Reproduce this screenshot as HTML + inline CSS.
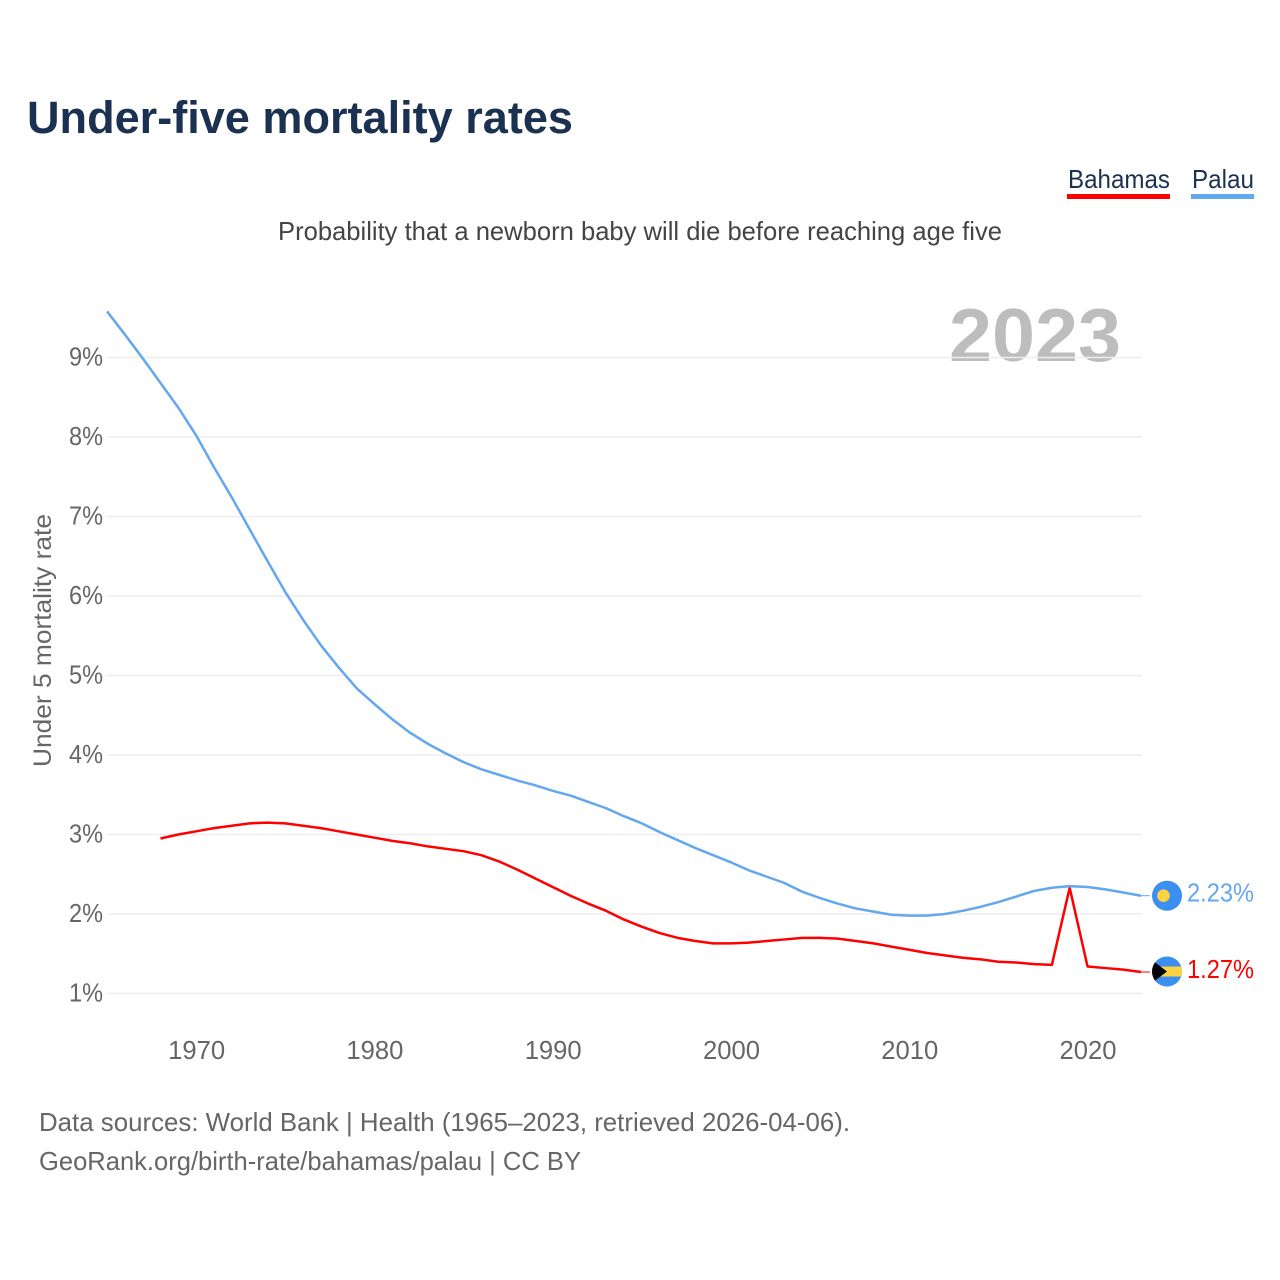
<!DOCTYPE html>
<html>
<head>
<meta charset="utf-8">
<title>Under-five mortality rates</title>
<style>
html,body{margin:0;padding:0;background:#fff;}
svg{display:block;}
text{font-family:"Liberation Sans",sans-serif;}
</style>
</head>
<body>
<svg id="chart" xmlns="http://www.w3.org/2000/svg" width="1280" height="1280" viewBox="0 0 1280 1280">
  <rect x="0" y="0" width="1280" height="1280" fill="#ffffff"/>
  <text x="27" y="133" font-size="45" font-weight="700" fill="#1a3152" textLength="546" lengthAdjust="spacingAndGlyphs">Under-five mortality rates</text>
  <g>
    <text x="1068" y="188" font-size="26" fill="#1a3152" textLength="102" lengthAdjust="spacingAndGlyphs">Bahamas</text>
    <rect x="1067" y="194" width="103" height="5" fill="#ff0000"/>
  </g>
  <g>
    <text x="1192" y="188" font-size="26" fill="#1a3152" textLength="62" lengthAdjust="spacingAndGlyphs">Palau</text>
    <rect x="1191" y="194" width="63" height="5" fill="#63a7ee"/>
  </g>
  <text x="278" y="240" font-size="26" fill="#444444" textLength="724" lengthAdjust="spacingAndGlyphs">Probability that a newborn baby will die before reaching age five</text>
  <text x="949" y="361" font-size="75" font-weight="700" fill="#bdbdbd" textLength="172" lengthAdjust="spacingAndGlyphs">2023</text>
  <text transform="translate(51 767) rotate(-90)" x="0" y="0" font-size="25" fill="#666666" textLength="253" lengthAdjust="spacingAndGlyphs">Under 5 mortality rate</text>
  <g id="grid"></g>
  <g id="yticks"></g>
  <g id="xticks"></g>
  <g id="series"></g>
  <defs>
    <clipPath id="bahamas-clip"><circle id="bahamas-clip-circle" cx="1167" cy="971" r="15"/></clipPath>
  </defs>
  <g id="palau-flag">
    <circle cx="1167" cy="0" r="15" fill="#3a8ff0"/>
    <circle cx="1163.5" cy="0" r="6.3" fill="#ffd23f"/>
  </g>
  <g id="bahamas-flag" clip-path="url(#bahamas-clip)"></g>
  <text id="palau-end" x="1187" font-size="26" fill="#63a7ee" textLength="67" lengthAdjust="spacingAndGlyphs"></text>
  <text id="bahamas-end" x="1187" font-size="26" fill="#ff0000" textLength="67" lengthAdjust="spacingAndGlyphs"></text>
  <text x="39" y="1131" font-size="26" fill="#666666" textLength="811" lengthAdjust="spacingAndGlyphs">Data sources: World Bank | Health (1965–2023, retrieved 2026-04-06).</text>
  <text x="39" y="1170" font-size="26" fill="#666666" textLength="542" lengthAdjust="spacingAndGlyphs">GeoRank.org/birth-rate/bahamas/palau | CC BY</text>
</svg>
<script>
const palauStartYear = 1965;
const palauValues = [9.58,9.29,8.99,8.68,8.37,8.02,7.62,7.24,6.84,6.44,6.05,5.70,5.38,5.10,4.84,4.64,4.45,4.28,4.14,4.02,3.91,3.82,3.75,3.68,3.62,3.55,3.49,3.41,3.33,3.23,3.14,3.03,2.93,2.83,2.74,2.65,2.55,2.47,2.39,2.28,2.20,2.13,2.07,2.03,1.99,1.98,1.98,2.00,2.04,2.09,2.15,2.22,2.29,2.33,2.35,2.34,2.31,2.27,2.23];
const bahamasStartYear = 1968;
const bahamasValues = [2.95,3.00,3.04,3.08,3.11,3.14,3.15,3.14,3.11,3.08,3.04,3.00,2.96,2.92,2.89,2.85,2.82,2.79,2.74,2.66,2.56,2.45,2.34,2.23,2.13,2.04,1.93,1.84,1.76,1.70,1.66,1.63,1.63,1.64,1.66,1.68,1.70,1.70,1.69,1.66,1.63,1.59,1.55,1.51,1.48,1.45,1.43,1.40,1.39,1.37,1.36,2.33,1.34,1.32,1.30,1.27];
const yTickValues = [1,2,3,4,5,6,7,8,9];
const xTickYears = [1970,1980,1990,2000,2010,2020];
const palauEndLabel = "2.23%";
const bahamasEndLabel = "1.27%";

const NS = "http://www.w3.org/2000/svg";
const xScale = function (year) { return 107 + (year - 1965) * (1034 / 58); };
const yScale = function (v) { return 993.5 - (v - 1) * 79.5; };
const grid = document.getElementById("grid");
const yticks = document.getElementById("yticks");
const xticks = document.getElementById("xticks");
const series = document.getElementById("series");

function make(tag, attrs) {
  const el = document.createElementNS(NS, tag);
  for (const k in attrs) el.setAttribute(k, attrs[k]);
  return el;
}

yTickValues.forEach(function (v) {
  const line = make("line", {x1: 107, x2: 1142, y1: yScale(v), y2: yScale(v), stroke: "#eeeeee", "stroke-width": 1.5});
  
  
  grid.appendChild(line);
  const label = make("text", {x: 69, y: yScale(v) + 8, "font-size": 26, fill: "#666666", textLength: 34, lengthAdjust: "spacingAndGlyphs"});
  
  
  label.textContent = v + "%";
  yticks.appendChild(label);
});

xTickYears.forEach(function (yr) {
  const label = make("text", {x: xScale(yr) - 28, y: 1059, "font-size": 26, fill: "#666666", textLength: 57, lengthAdjust: "spacingAndGlyphs"});
  
  
  label.textContent = yr;
  xticks.appendChild(label);
});

function linePoints(values, startYear) {
  return values.map(function (v, i) {
    return xScale(startYear + i).toFixed(2) + "," + yScale(v).toFixed(2);
  }).join(" ");
}

const bahamasLine = make("polyline", {points: linePoints(bahamasValues, bahamasStartYear), fill: "none", stroke: "#ff0000", "stroke-width": 2.5, "stroke-linejoin": "round"});


series.appendChild(bahamasLine);

const palauLine = make("polyline", {points: linePoints(palauValues, palauStartYear), fill: "none", stroke: "#63a7ee", "stroke-width": 2.5, "stroke-linejoin": "round"});


series.appendChild(palauLine);

const palauEndY = yScale(palauValues[palauValues.length - 1]);
const bahamasEndY = yScale(bahamasValues[bahamasValues.length - 1]);
const flagBahamasY = bahamasEndY - 0.5;

const palauLeader = make("line", {x1: 1141, x2: 1150, y1: palauEndY, y2: palauEndY, stroke: "#63a7ee", "stroke-width": 1});


series.appendChild(palauLeader);

const bahamasLeader = make("line", {x1: 1141, x2: 1150, y1: bahamasEndY, y2: bahamasEndY, stroke: "#ff0000", "stroke-width": 1});


series.appendChild(bahamasLeader);

document.getElementById("palau-flag").setAttribute("transform", "translate(0 " + palauEndY + ")");
document.getElementById("bahamas-clip-circle").setAttribute("cy", flagBahamasY);

const bFlag = document.getElementById("bahamas-flag");
bFlag.appendChild(make("rect", {x: 1152, y: flagBahamasY - 15, width: 30, height: 30, fill: "#3a8ff0"}));
bFlag.appendChild(make("rect", {x: 1152, y: flagBahamasY - 5, width: 30, height: 10, fill: "#ffd23f"}));
bFlag.appendChild(make("polygon", {points: "1150," + (flagBahamasY - 13) + " 1167," + flagBahamasY + " 1150," + (flagBahamasY + 13), fill: "#000000"}));

const palauEnd = document.getElementById("palau-end");
palauEnd.setAttribute("y", palauEndY + 6);
palauEnd.textContent = palauEndLabel;
const bahamasEnd = document.getElementById("bahamas-end");
bahamasEnd.setAttribute("y", bahamasEndY + 6);
bahamasEnd.textContent = bahamasEndLabel;
</script>
</body>
</html>
